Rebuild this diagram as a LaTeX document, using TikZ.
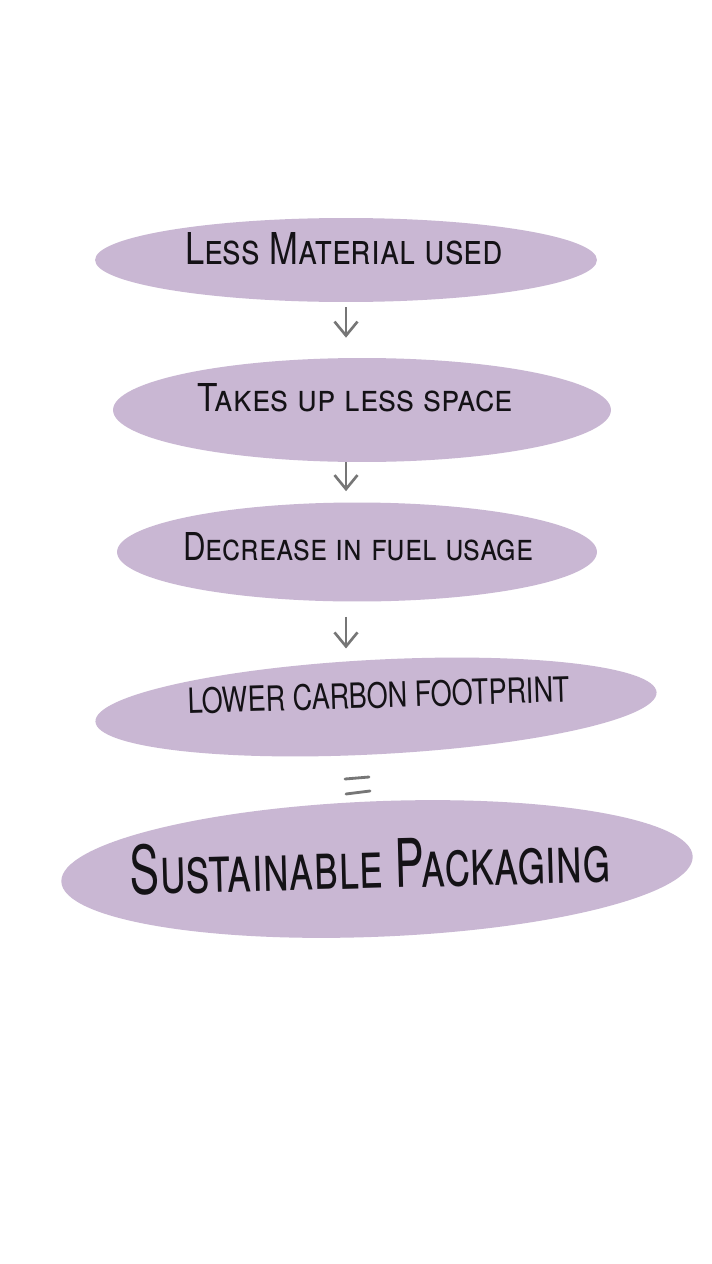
\documentclass[tikz,border=0pt]{standalone}
\usepackage{graphicx}
\usepackage{fontspec}
\setmainfont{TeX Gyre Heros}
\usepackage{xcolor}
\definecolor{blob}{RGB}{201, 183, 211}
\definecolor{ink}{RGB}{20, 18, 22}
\definecolor{pencil}{RGB}{118, 118, 118}
\usepackage{tikz}
\usetikzlibrary{calc,arrows.meta,shapes.geometric}

\newcommand{\hand}[3]{\resizebox{#1}{#2}{\scshape #3}}

\begin{document}
\begin{tikzpicture}[x=0.02cm, y=-0.02cm,
    oval/.style={ellipse, fill=blob, inner sep=0pt},
    words/.style={text=ink, inner sep=0pt},
    flow/.style={pencil, line width=1.5pt, -{Straight Barb[length=0.28cm, width=0.46cm]}}]
    \useasboundingbox[fill=white] (0,0) rectangle (711,1264);

    % Ellipses
    \node[oval, minimum width=10.04cm, minimum height=1.68cm] (less) at (346,260) {};
    \node[oval, minimum width=9.96cm, minimum height=2.08cm] (space) at (362,410) {};
    \node[oval, minimum width=9.6cm, minimum height=1.98cm] (fuel) at (357,552) {};
    \node[oval, minimum width=11.24cm, minimum height=1.89cm, rotate=3] (carbon) at (376,707) {};
    \node[oval, minimum width=12.64cm, minimum height=2.71cm, rotate=2.3] (pack) at (377,869) {};

    % Texts
    \node[words] (lessT) at (344,249) {\hand{6.36cm}{0.64cm}{Less Material used}};
    \node[words] (spaceT) at (355,398) {\hand{6.32cm}{0.56cm}{Takes up less space}};
    \node[words] (fuelT) at (358,547) {\hand{7.0cm}{0.56cm}{Decrease in fuel usage}};
    \node[words, rotate=1.8] (carbonT) at (379,695) {\hand{7.64cm}{0.52cm}{LOWER CARBON FOOTPRINT}};
    \node[words, rotate=1.5] (packT) at (370,864) {\hand{9.6cm}{1.0cm}{Sustainable Packaging}};

    % Arrows
    \draw[flow, shorten <=0.1cm, shorten >=0.4cm] (less.south) -- (less.south |- space.north);
    \draw[flow, shorten >=0.22cm] (space.south -| less.south) -- (less.south |- fuel.north);
    \draw[flow, shorten <=0.3cm, shorten >=0.22cm] (fuel.south -| less.south) -- (less.south |- carbon.north);

    % Equals sign
    \draw[pencil, line width=1.6pt, line cap=round] (345,779) -- (369,777);
    \draw[pencil, line width=1.6pt, line cap=round] (346,794) -- (370,791);
\end{tikzpicture}
\end{document}
